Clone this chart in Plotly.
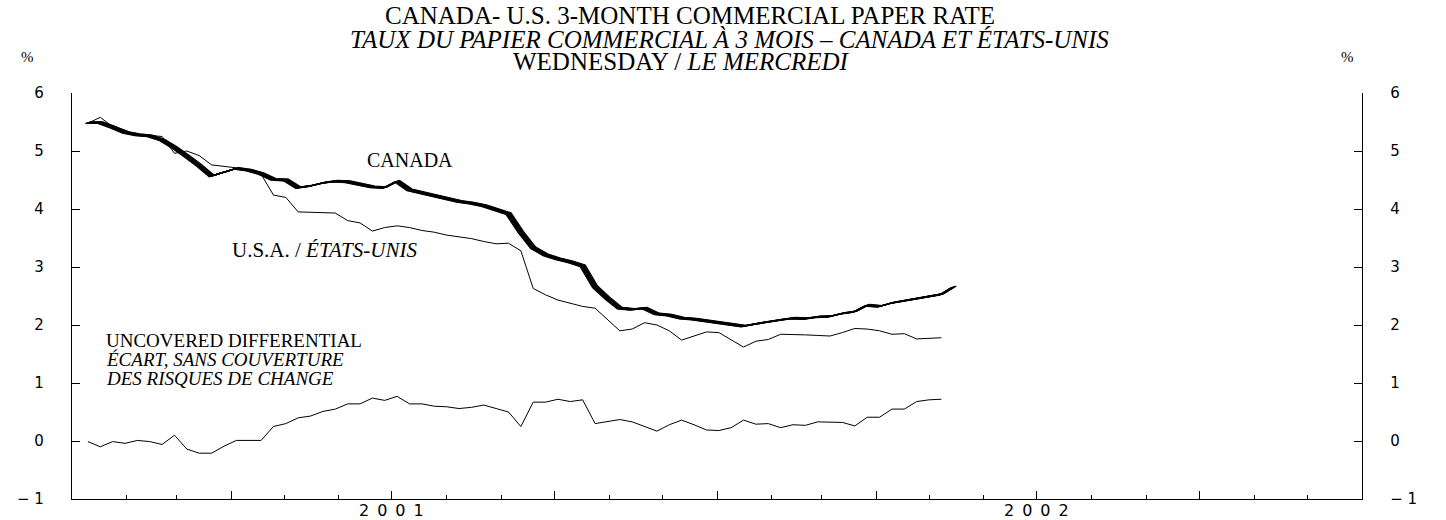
import numpy as np
import pandas as pd
import plotly.graph_objects as go

# ---- data (weekly, Wednesdays) ----
canada = [5.49, 5.49, 5.41, 5.32, 5.28, 5.26, 5.19, 5.06, 4.91, 4.75,
          4.57, 4.63, 4.70, 4.67, 4.61, 4.51, 4.50, 4.37, 4.40, 4.45,
          4.48, 4.47, 4.43, 4.38, 4.37, 4.48, 4.33, 4.28, 4.23, 4.19,
          4.13, 4.10, 4.06, 3.99, 3.92, 3.60, 3.33, 3.21, 3.14, 3.09,
          3.02, 2.66, 2.46, 2.29, 2.27, 2.29, 2.19, 2.17, 2.12, 2.10,
          2.07, 2.05, 2.02, 1.98, 2.02, 2.06, 2.09, 2.12, 2.11, 2.14,
          2.15, 2.20, 2.23, 2.34, 2.32, 2.38, 2.42, 2.45, 2.49, 2.53,
          2.66]
usa = [5.48, 5.58, 5.42, 5.36, 5.27, 5.27, 5.25, 4.96, 5.00, 4.92,
       4.76, 4.74, 4.71, 4.66, 4.60, 4.24, 4.20, 3.95, 3.94, 3.93,
       3.93, 3.80, 3.76, 3.62, 3.68, 3.71, 3.68, 3.63, 3.60, 3.55,
       3.52, 3.49, 3.44, 3.40, 3.41, 3.28, 2.63, 2.52, 2.43, 2.38,
       2.32, 2.29, 2.09, 1.90, 1.93, 2.04, 2.00, 1.90, 1.74, 1.81,
       1.88, 1.87, 1.75, 1.62, 1.72, 1.75, 1.84, 1.84, 1.83, 1.82,
       1.81, 1.87, 1.94, 1.93, 1.90, 1.84, 1.85, 1.76, 1.77, 1.78]
differential = [-0.01, -0.10, -0.01, -0.04, 0.01, -0.01, -0.06, 0.10, -0.14, -0.21,
                -0.21, -0.09, 0.01, 0.01, 0.01, 0.25, 0.30, 0.40, 0.43, 0.51,
                0.55, 0.64, 0.64, 0.74, 0.70, 0.77, 0.64, 0.64, 0.60, 0.59,
                0.56, 0.58, 0.62, 0.56, 0.50, 0.25, 0.67, 0.67, 0.72, 0.68,
                0.71, 0.30, 0.33, 0.37, 0.33, 0.25, 0.17, 0.28, 0.36, 0.28,
                0.19, 0.18, 0.23, 0.36, 0.29, 0.30, 0.23, 0.28, 0.27, 0.33,
                0.32, 0.32, 0.26, 0.41, 0.41, 0.55, 0.55, 0.68, 0.71, 0.72]
dates_canada = pd.date_range("2001-01-10", periods=len(canada), freq="7D")
dates_us = pd.date_range("2001-01-10", periods=len(usa), freq="7D")

y_tickvals = [-1, 0, 1, 2, 3, 4, 5, 6]
y_ticktext = ["\u2212 1", "0", "1", "2", "3", "4", "5", "6"]
year_labels = ["2001", "2002"]
year_label_pos = ["2001-07-01", "2002-07-01"]

W, H = 1446, 520
L, R, T, B = 72, 84, 93, 21
plot_w = W - L - R
plot_h = H - T - B
days_per_px = 730.0 / plot_w
val_per_px = 7.0 / plot_h

fig = go.Figure()

# thin lines
fig.add_trace(go.Scatter(x=dates_us, y=usa, mode="lines",
                         line=dict(color="black", width=1), hoverinfo="skip"))
fig.add_trace(go.Scatter(x=dates_us, y=differential, mode="lines",
                         line=dict(color="black", width=1), hoverinfo="skip"))

# Canada: thick calligraphic band made of several offset strokes
for off in np.linspace(-2.5, 2.5, 7):
    xs = dates_canada + pd.to_timedelta(off * days_per_px, unit="D")
    ys = [v + off * 0.3 * val_per_px for v in canada]
    fig.add_trace(go.Scatter(x=xs, y=ys, mode="lines",
                             line=dict(color="black", width=1.3), hoverinfo="skip"))

# invisible trace for right axis
fig.add_trace(go.Scatter(x=[dates_us[0]], y=[0], yaxis="y2", mode="markers",
                         marker=dict(opacity=0), hoverinfo="skip"))

axis_font = dict(family="DejaVu Sans", size=15, color="black")
yax = dict(range=[-1, 6], tickvals=y_tickvals, ticktext=y_ticktext,
           ticks="inside", ticklen=8, tickwidth=1, tickcolor="black",
           showline=True, linecolor="black", linewidth=1.3,
           showgrid=False, zeroline=False, tickfont=axis_font,
           ticklabelstandoff=24)

fig.update_layout(
    width=W, height=H,
    margin=dict(l=L, r=R, t=T, b=B),
    paper_bgcolor="white", plot_bgcolor="white",
    showlegend=False,
    xaxis=dict(type="date", range=["2001-01-01", "2003-01-01"],
               tick0="2001-01-01", dtick="M3", ticks="inside", ticklen=8,
               tickcolor="black", tickwidth=1,
               minor=dict(dtick="M1", ticks="inside", ticklen=4, tickcolor="black", tickwidth=1),
               showticklabels=False, showline=True, linecolor="black", linewidth=1.3,
               showgrid=False, zeroline=False),
    yaxis=dict(**yax, side="left"),
    yaxis2=dict(**yax, side="right", overlaying="y", anchor="x"),
)

serif = "Liberation Serif"


def px_ann(text, x, y, size=18, xanchor="left"):
    return dict(text=text, xref="paper", yref="paper",
                x=(x - L) / plot_w, y=1 - (y - T) / plot_h,
                showarrow=False, xanchor=xanchor, yanchor="middle",
                font=dict(family=serif, size=size, color="black"))


ann = []
# titles
ann.append(px_ann("CANADA- U.S. 3-MONTH COMMERCIAL PAPER RATE", 690, 16, size=25, xanchor="center"))
ann.append(px_ann("<i>TAUX DU PAPIER COMMERCIAL À 3 MOIS – CANADA ET ÉTATS-UNIS</i>", 730, 39, size=25, xanchor="center"))
ann.append(px_ann("WEDNESDAY / <i>LE MERCREDI</i>", 681, 61, size=25, xanchor="center"))

ann.append(px_ann("%", 27, 57, size=15, xanchor="center"))
ann.append(px_ann("%", 1347, 57, size=15, xanchor="center"))
ann.append(px_ann("CANADA", 365, 160, size=20))
ann.append(px_ann("U.S.A. / <i>ÉTATS-UNIS</i>", 230, 250, size=21))
ann.append(px_ann("UNCOVERED DIFFERENTIAL", 104, 340, size=19))
ann.append(px_ann("<i>ÉCART, SANS COUVERTURE</i>", 104, 359, size=19))
ann.append(px_ann("<i>DES RISQUES DE CHANGE</i>", 104, 378, size=19))

for lab, pos in zip(year_labels, year_label_pos):
    ann.append(dict(text="\u2002".join(lab), x=pos, xref="x", y=-1, yref="y",
                    yanchor="top", xanchor="center", yshift=0, showarrow=False,
                    font=dict(family="DejaVu Sans", size=16, color="black")))

fig.update_layout(annotations=ann)
fig.write_html("out.html", config={"displayModeBar": False},
               post_script="document.body.style.margin='0px';")
